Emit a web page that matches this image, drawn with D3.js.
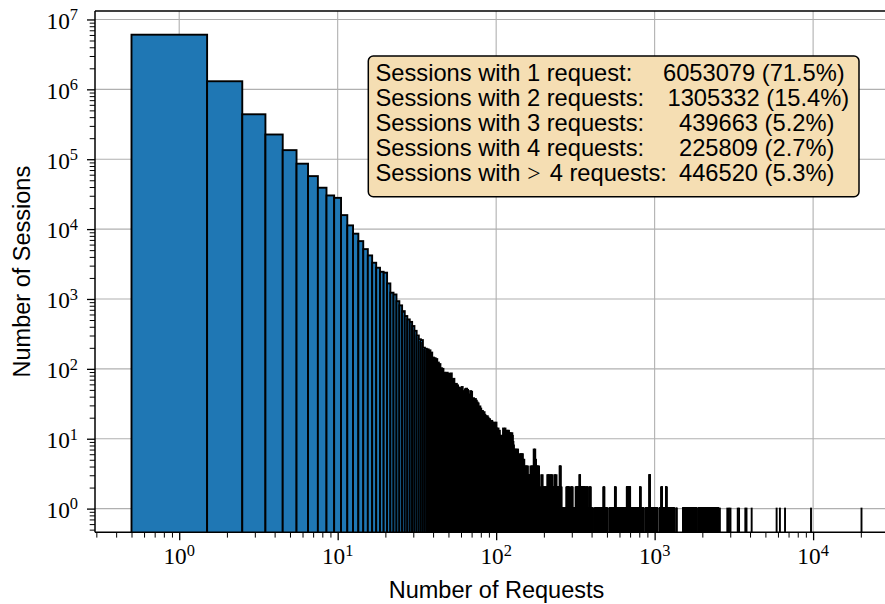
<!DOCTYPE html>
<html>
<head>
<meta charset="utf-8">
<script src="https://cdn.jsdelivr.net/npm/d3@7"></script>
<style>
  html, body { margin: 0; padding: 0; background: #fff; }
  svg { display: block; }
</style>
</head>
<body>
<div id="chart"></div>
<script>
"use strict";

// sessions per number of requests, n = 1 .. 192 (index = n - 1)
const sessionCounts = [
    6053079, 1305332, 439663, 225809, 134900, 86300, 57300, 39100, 30300, 28000,
    15850, 11300, 8600, 6730, 5170, 4200, 3300, 2800, 2450, 2380,
    1670, 1230, 1160, 930, 810, 670, 570, 510, 470, 410,
    350, 300, 265, 258, 201, 194, 190, 184, 171, 145,
    142, 138, 123, 117, 102, 100, 88, 87, 88, 85,
    84, 86, 71, 72, 60, 61, 58, 54, 53, 52,
    55, 48, 47, 51, 52, 50, 43, 42, 48, 47,
    37, 38, 36, 37, 35, 33, 32, 28, 29, 27,
    24, 25, 23, 24, 22, 21, 20, 21, 20, 19,
    19, 18, 17, 18, 17, 16, 17, 15, 16, 17,
    14, 13, 14, 12, 13, 11, 11, 10, 11, 9,
    14, 12, 13, 14, 12, 13, 11, 13, 12, 13,
    11, 12, 12, 11, 10, 12, 11, 9, 8, 5,
    5, 7, 6, 7, 6, 5, 7, 5, 4, 5,
    6, 5, 6, 4, 6, 5, 6, 5, 4, 5,
    4, 4, 3, 4, 4, 3, 4, 4, 3, 3,
    2, 3, 3, 2, 4, 3, 4, 3, 4, 4,
    3, 4, 7, 5, 6, 7, 4, 5, 4, 3,
    4, 4, 2, 4, 3, 4, 2, 1, 1, 1,
    2, 2
];

// long tail: [first n, last n, sessions in every bin of that run]
const tailRuns = [
    [193, 193, 3], [194, 195, 2], [196, 196, 3], [197, 210, 2], [211, 212, 3],
    [213, 215, 2], [216, 217, 3], [218, 221, 2], [222, 223, 3], [224, 226, 2],
    [227, 227, 3], [228, 234, 2], [235, 236, 3], [237, 239, 2], [240, 240, 3],
    [241, 251, 2], [252, 255, 4], [256, 258, 2], [259, 277, 1], [278, 289, 2],
    [290, 296, 1], [297, 303, 2], [304, 317, 1], [318, 335, 2], [336, 338, 3],
    [339, 365, 2], [366, 371, 1], [372, 378, 2], [379, 388, 1], [389, 394, 2],
    [395, 407, 1], [418, 475, 1], [476, 481, 2], [482, 502, 1], [519, 561, 1],
    [562, 567, 2], [568, 667, 1], [668, 700, 2], [701, 808, 1], [809, 814, 2],
    [815, 850, 1], [879, 927, 1], [928, 932, 3], [933, 1040, 1], [1078, 1104, 1],
    [1105, 1112, 2], [1113, 1179, 1], [1180, 1187, 2], [1188, 1322, 1], [1372, 1374, 1],
    [1515, 1837, 1], [1904, 2020, 1], [2045, 2520, 1], [2580, 2580, 1], [2875, 2875, 1],
    [2945, 2945, 1], [3010, 3010, 1], [3345, 3345, 1], [3410, 3410, 1], [3735, 3735, 1],
    [3800, 3800, 1], [4095, 4095, 1], [5885, 5885, 1], [6175, 6175, 1], [6650, 6650, 1],
    [9700, 9700, 1], [20200, 20200, 1]
];

const legendLabels = [
    "Sessions with 1 request:",
    "Sessions with 2 requests:",
    "Sessions with 3 requests:",
    "Sessions with 4 requests:",
    "Sessions with > 4 requests:"
];
const legendValues = [
    "6053079 (71.5%)",
    "1305332 (15.4%)",
    "439663 (5.2%)",
    "225809 (2.7%)",
    "446520 (5.3%)"
];

const xTickExps = [0, 1, 2, 3, 4];
const yTickExps = [0, 1, 2, 3, 4, 5, 6, 7];

const font_sans = "'Liberation Sans', Arial, sans-serif";
const font_serif = "'Liberation Serif', 'DejaVu Serif', serif";

function draw_chart(dom_id) {
    const width = 885, height = 604;
    const plot = {left: 95, right: 898, top: 11, bottom: 532.3};

    let bins = [];
    sessionCounts.forEach((c, i) => { if (c > 0) bins.push({n: i + 1, count: c}); });
    for (const [a, b, c] of tailRuns)
        for (let n = a; n <= b; n++) bins.push({n: n, count: c});

    // matplotlib style 5% margin in log space
    function logPad(lo, hi) {
        const l0 = Math.log10(lo), l1 = Math.log10(hi), m = (l1 - l0) * 0.05;
        return [Math.pow(10, l0 - m), Math.pow(10, l1 + m)];
    }

    const x = d3.scaleLog()
        .domain(logPad(0.5, d3.max(bins, d => d.n) + 0.5))
        .range([plot.left, plot.right]);
    const y = d3.scaleLog()
        .domain(logPad(d3.min(bins, d => d.count), d3.max(bins, d => d.count)))
        .range([plot.bottom, plot.top]);

    const svg = d3.select(dom_id)
        .append("svg")
        .attr("width", width)
        .attr("height", height);

    svg.append("defs").append("clipPath")
        .attr("id", "plot-clip")
        .append("rect")
        .attr("x", plot.left).attr("y", plot.top)
        .attr("width", plot.right - plot.left)
        .attr("height", plot.bottom - plot.top);

    // grid (below bars)
    const grid = svg.append("g")
        .attr("stroke", "#b0b0b0")
        .attr("stroke-width", 1.1)
        .attr("clip-path", "url(#plot-clip)");
    grid.selectAll(".gx")
        .data(xTickExps.map(e => Math.pow(10, e)))
        .join("line")
        .attr("x1", d => x(d)).attr("x2", d => x(d))
        .attr("y1", plot.top).attr("y2", plot.bottom);
    grid.selectAll(".gy")
        .data(yTickExps.map(e => Math.pow(10, e)))
        .join("line")
        .attr("y1", d => y(d)).attr("y2", d => y(d))
        .attr("x1", plot.left).attr("x2", plot.right);

    // histogram bars
    svg.append("g")
        .attr("clip-path", "url(#plot-clip)")
        .attr("fill", "#1f77b4")
        .attr("stroke", "#000")
        .attr("stroke-width", 1.9)
        .selectAll("rect")
        .data(bins)
        .join("rect")
        .attr("x", d => x(d.n - 0.5))
        .attr("width", d => x(d.n + 0.5) - x(d.n - 0.5))
        .attr("y", d => y(d.count))
        .attr("height", d => plot.bottom + 4 - y(d.count));

    // ticks
    const minorOf = (lo, hi) => {
        let out = [];
        for (let e = lo; e <= hi; e++)
            for (let m = 2; m <= 9; m++) out.push(m * Math.pow(10, e));
        return out;
    };
    const [x0, x1] = x.domain(), [y0, y1] = y.domain();
    const xMinor = minorOf(-1, 4).filter(v => v >= x0 && v <= x1);
    const yMinor = minorOf(-1, 7).filter(v => v >= y0 && v <= y1);

    function axisStyle(g) {
        g.select(".domain").remove();
        g.selectAll(".tick line").attr("stroke", "#000");
    }

    svg.append("g")
        .attr("transform", `translate(0,${plot.bottom})`)
        .call(d3.axisBottom(x).tickValues(xMinor).tickSize(5.3).tickFormat(""))
        .call(axisStyle)
        .selectAll(".tick line").attr("stroke-width", 1);
    svg.append("g")
        .attr("transform", `translate(0,${plot.bottom})`)
        .call(d3.axisBottom(x).tickValues(xTickExps.map(e => Math.pow(10, e))).tickSize(8).tickFormat(""))
        .call(axisStyle)
        .selectAll(".tick line").attr("stroke-width", 1.3);
    svg.append("g")
        .attr("transform", `translate(${plot.left},0)`)
        .call(d3.axisLeft(y).tickValues(yMinor).tickSize(5.3).tickFormat(""))
        .call(axisStyle)
        .selectAll(".tick line").attr("stroke-width", 1);
    svg.append("g")
        .attr("transform", `translate(${plot.left},0)`)
        .call(d3.axisLeft(y).tickValues(yTickExps.map(e => Math.pow(10, e))).tickSize(8).tickFormat(""))
        .call(axisStyle)
        .selectAll(".tick line").attr("stroke-width", 1.3);

    // tick labels as 10^e
    function powerLabel(sel) {
        sel.append("tspan").text("10");
        sel.append("tspan")
            .attr("font-size", 16.4)
            .attr("dy", -8.5)
            .text(d => d);
    }
    svg.append("g")
        .style("font-family", font_serif)
        .attr("font-size", 23.3)
        .attr("text-anchor", "middle")
        .selectAll("text")
        .data(xTickExps)
        .join("text")
        .attr("x", d => x(Math.pow(10, d)))
        .attr("y", 564)
        .call(powerLabel);
    svg.append("g")
        .style("font-family", font_serif)
        .attr("font-size", 23.3)
        .attr("text-anchor", "end")
        .selectAll("text")
        .data(yTickExps)
        .join("text")
        .attr("x", 78)
        .attr("y", d => y(Math.pow(10, d)) + 9.3)
        .call(powerLabel);

    // spines
    const spines = svg.append("g").attr("stroke", "#000").attr("stroke-width", 1.5);
    spines.append("line").attr("x1", plot.left).attr("x2", plot.left)
        .attr("y1", plot.top).attr("y2", plot.bottom);
    spines.append("line").attr("x1", plot.left).attr("x2", plot.right)
        .attr("y1", plot.bottom).attr("y2", plot.bottom);
    spines.append("line").attr("x1", plot.left).attr("x2", plot.right)
        .attr("y1", plot.top).attr("y2", plot.top);
    spines.append("line").attr("x1", plot.right).attr("x2", plot.right)
        .attr("y1", plot.top).attr("y2", plot.bottom);

    // axis labels
    svg.append("text")
        .style("font-family", font_sans)
        .attr("font-size", 23.5)
        .attr("text-anchor", "middle")
        .attr("x", (plot.left + plot.right) / 2)
        .attr("y", 598)
        .text("Number of Requests");
    svg.append("text")
        .style("font-family", font_sans)
        .attr("font-size", 23.5)
        .attr("text-anchor", "middle")
        .attr("transform", `translate(29.5,${(plot.top + plot.bottom) / 2}) rotate(-90)`)
        .text("Number of Sessions");

    // stats box
    const box = svg.append("g");
    box.append("rect")
        .attr("x", 368.3).attr("y", 56)
        .attr("width", 859 - 368.3).attr("height", 196.7 - 56)
        .attr("rx", 5).attr("ry", 5)
        .attr("fill", "#f5deb3")
        .attr("stroke", "#000")
        .attr("stroke-width", 1.5);
    const valueX = [663, 667.5, 679, 679, 679];
    const rows = box.selectAll("text")
        .data(legendLabels)
        .join("text")
        .style("font-family", font_sans)
        .attr("font-size", 23.7)
        .attr("fill", "#000")
        .attr("y", (d, i) => 81 + i * 25);
    rows.each(function(label, i) {
        const t = d3.select(this);
        const parts = label.split(">");
        t.append("tspan").attr("x", 375.5).text(parts[0].trimEnd());
        if (parts.length > 1) {
            // math-style relation sign, spaced like TeX
            t.append("tspan").attr("dx", 7)
                .style("font-family", font_serif)
                .text(">");
            t.append("tspan").attr("dx", 9).text(parts[1].trim());
        }
        t.append("tspan").attr("x", valueX[i]).text(legendValues[i]);
    });
}

draw_chart("#chart");
</script>
</body>
</html>
